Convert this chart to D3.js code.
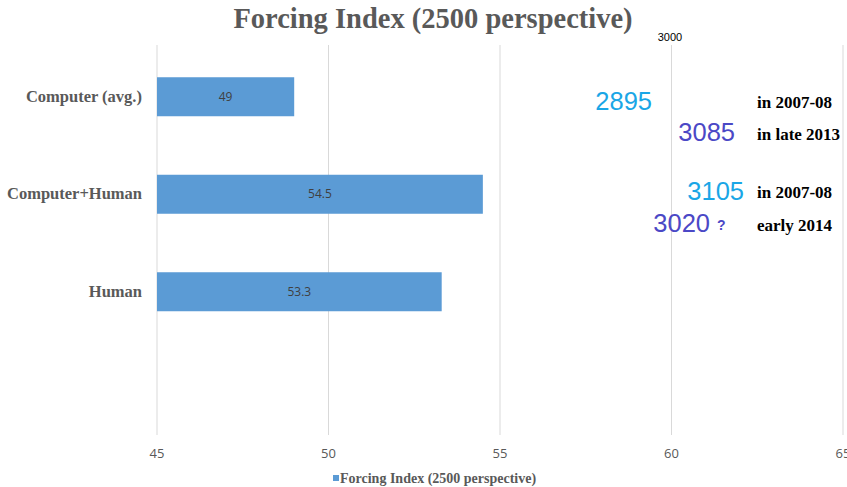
<!DOCTYPE html>
<html>
<head>
<meta charset="utf-8">
<script src="https://cdn.jsdelivr.net/npm/d3@7"></script>
<style>
  body { margin: 0; background: #fff; }
  svg { display: block; }
</style>
</head>
<body>
<svg id="chart" width="847" height="487"></svg>
<script>
const categories = ["Computer (avg.)", "Computer+Human", "Human", ""];
const values = [49, 54.5, 53.3, null];
const xTicks = [45, 50, 55, 60, 65];
const seriesName = "Forcing Index (2500 perspective)";

// side notes
const noteValues = ["2895", "3085", "3105", "3020"];
const noteLabels = ["in 2007-08", "in late 2013", "in 2007-08", "early 2014"];
const noteColors = ["#1aa6e6", "#4b48c6", "#1aa6e6", "#4b48c6"];

const svg = d3.select("#chart");

const xScale = d3.scaleLinear().domain([45, 65]).range([157, 843]);
const yScale = d3.scaleBand().domain(categories).range([48, 438]).paddingInner(0.6).paddingOuter(0.3);

// title
svg.append("text")
    .attr("x", 433).attr("y", 28)
    .attr("text-anchor", "middle")
    .style("font-family", "Liberation Serif")
    .style("font-weight", "bold")
    .style("font-size", "28.5px")
    .style("fill", "#595959")
    .text(seriesName);

svg.append("text")
    .attr("x", 670).attr("y", 41)
    .attr("text-anchor", "middle")
    .style("font-family", "Liberation Sans")
    .style("font-size", "11px")
    .style("fill", "#000")
    .text("3000");

// gridlines
svg.append("g").selectAll("line")
    .data(xTicks)
    .enter()
    .append("line")
    .attr("x1", d => xScale(d)).attr("x2", d => xScale(d))
    .attr("y1", 45).attr("y2", 435)
    .style("stroke", "#d9d9d9")
    .style("stroke-width", 1);

// tick labels
svg.append("g").selectAll("text")
    .data(xTicks)
    .enter()
    .append("text")
    .attr("x", d => xScale(d))
    .attr("y", 458)
    .attr("text-anchor", "middle")
    .style("font-family", "Open Sans")
    .style("font-size", "13px")
    .style("fill", "#595959")
    .text(d => d);

// category labels
svg.append("g").selectAll("text")
    .data(categories)
    .enter()
    .append("text")
    .attr("x", 142)
    .attr("y", d => yScale(d) + yScale.bandwidth() / 2 + 5)
    .attr("text-anchor", "end")
    .style("font-family", "Liberation Serif")
    .style("font-weight", "bold")
    .style("font-size", "16.5px")
    .style("fill", "#595959")
    .text(d => d);

const data = categories.map((c, i) => ({ cat: c, v: values[i] })).filter(d => d.v != null);

svg.append("g").selectAll(".bar")
    .data(data)
    .enter()
    .append("rect")
    .attr("class", "bar")
    .attr("x", xScale(45))
    .attr("y", d => yScale(d.cat))
    .attr("width", d => xScale(d.v) - xScale(45))
    .attr("height", yScale.bandwidth())
    .style("fill", "#5b9bd5");

svg.append("g").selectAll("text")
    .data(data)
    .enter()
    .append("text")
    .attr("x", d => (xScale(45) + xScale(d.v)) / 2)
    .attr("y", d => yScale(d.cat) + yScale.bandwidth() / 2 + 4)
    .attr("text-anchor", "middle")
    .style("font-family", "Open Sans")
    .style("font-size", "12px")
    .style("fill", "#404040")
    .text(d => d.v);

// notes on the right
const noteX = [652, 735, 744, 710];
const noteY = [110, 141, 200, 232];
const labelY = [108, 140, 198, 231];

noteValues.forEach((v, i) => {
    svg.append("text")
        .attr("x", noteX[i]).attr("y", noteY[i])
        .attr("text-anchor", "end")
        .style("font-family", "Liberation Sans")
        .style("font-size", "25.5px")
        .style("fill", noteColors[i])
        .text(v);
    svg.append("text")
        .attr("x", 757).attr("y", labelY[i])
        .style("font-family", "Liberation Serif")
        .style("font-weight", "bold")
        .style("font-size", "17px")
        .style("fill", "#000")
        .text(noteLabels[i]);
});

svg.append("text")
    .attr("x", 717).attr("y", 230)
    .style("font-family", "Liberation Sans")
    .style("font-weight", "bold")
    .style("font-size", "14px")
    .style("fill", "#4b48c6")
    .text("?");

// legend
svg.append("rect")
    .attr("x", 333).attr("y", 475)
    .attr("width", 6).attr("height", 6)
    .style("fill", "#5b9bd5");

svg.append("text")
    .attr("x", 340).attr("y", 483)
    .style("font-family", "Liberation Serif")
    .style("font-weight", "bold")
    .style("font-size", "14px")
    .style("fill", "#595959")
    .text(seriesName);
</script>
</body>
</html>
